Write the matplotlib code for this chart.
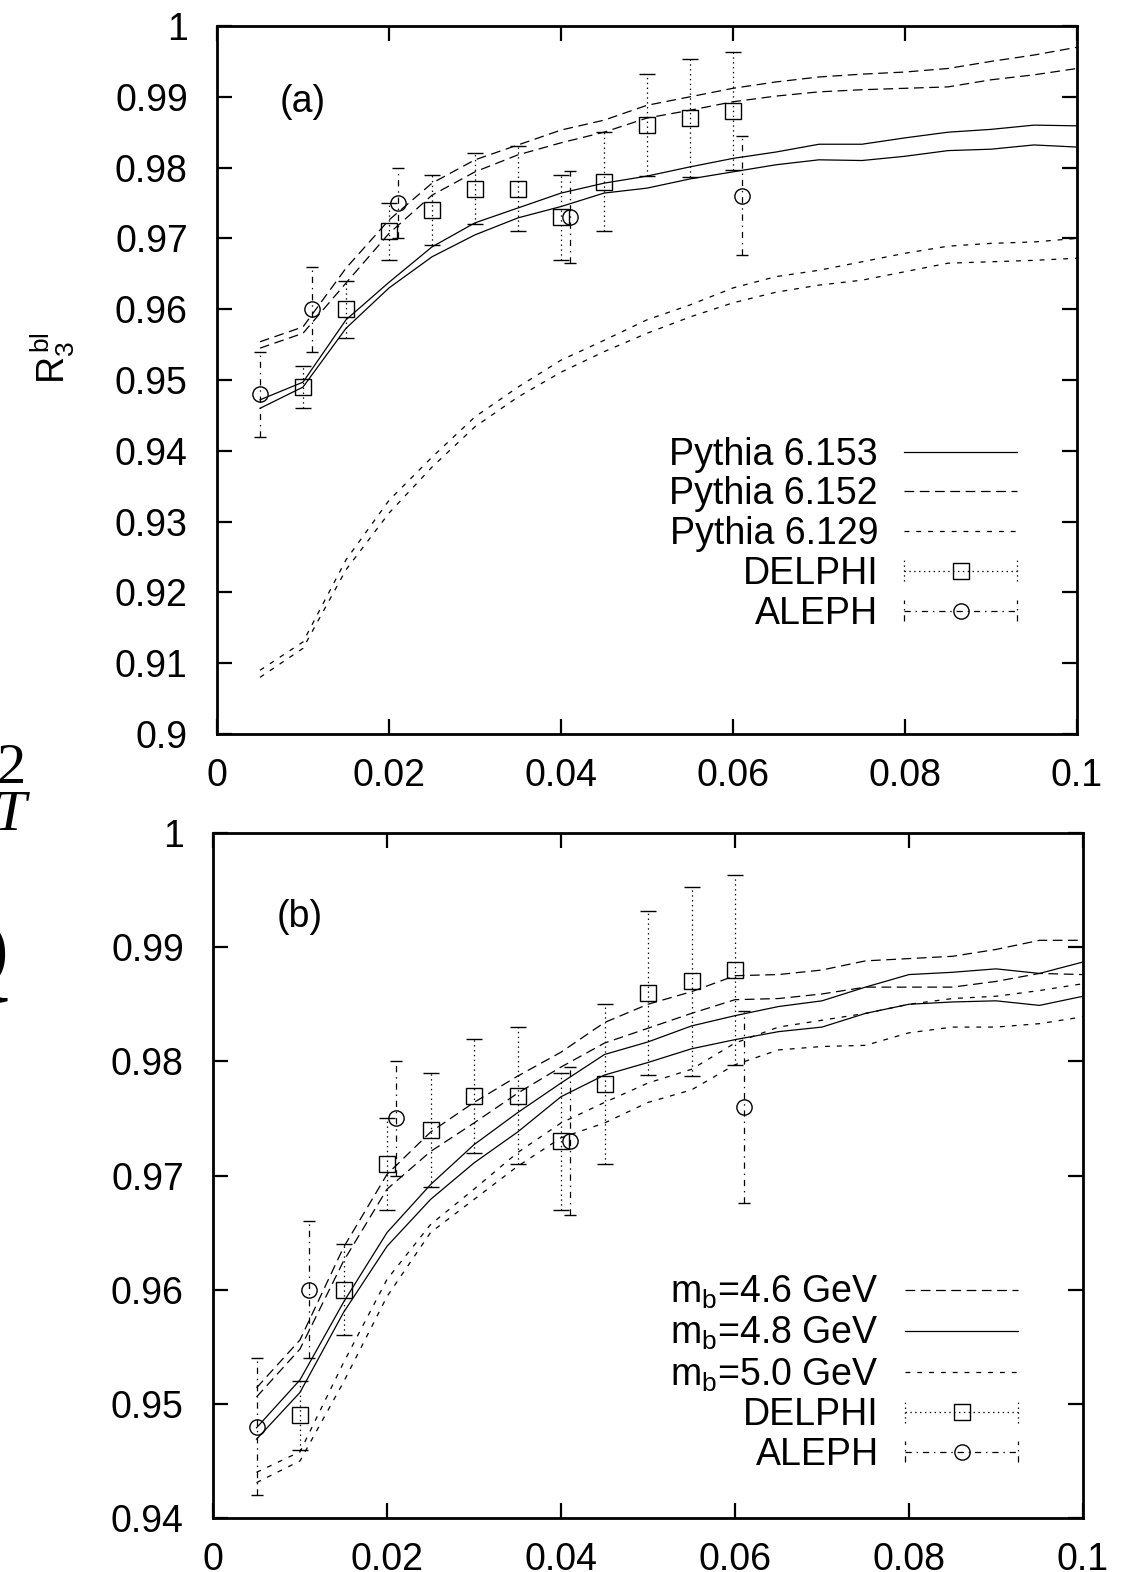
import matplotlib
matplotlib.use('Agg')
import matplotlib.pyplot as plt
from matplotlib.legend_handler import HandlerBase
from matplotlib.lines import Line2D

plt.rcParams['font.family'] = ['Liberation Sans', 'DejaVu Sans']
plt.rcParams['mathtext.fontset'] = 'custom'
plt.rcParams['mathtext.rm'] = 'Liberation Sans'
plt.rcParams['mathtext.it'] = 'Liberation Sans:italic'
plt.rcParams['lines.scale_dashes'] = False

# x grid of the Monte Carlo curves
x_mc = [0.005, 0.010, 0.015, 0.020, 0.025, 0.030, 0.035, 0.040, 0.045, 0.050,
        0.055, 0.060, 0.065, 0.070, 0.075, 0.080, 0.085, 0.090, 0.095, 0.100]

# panel (a): Pythia versions, each drawn as a band (upper/lower edge)
p153_hi = [0.9472, 0.9497, 0.9585, 0.9638, 0.9688, 0.9722, 0.9743, 0.9764, 0.9778, 0.9788,
           0.9801, 0.9813, 0.9822, 0.9833, 0.9833, 0.9842, 0.9850, 0.9854, 0.9860, 0.9859]
p153_lo = [0.9460, 0.9490, 0.9573, 0.9630, 0.9674, 0.9705, 0.9729, 0.9745, 0.9764, 0.9771,
           0.9784, 0.9794, 0.9804, 0.9811, 0.9810, 0.9816, 0.9824, 0.9826, 0.9832, 0.9829]
p152_hi = [0.9554, 0.9575, 0.9658, 0.9726, 0.9778, 0.9811, 0.9832, 0.9853, 0.9867, 0.9888,
           0.9900, 0.9912, 0.9921, 0.9928, 0.9932, 0.9935, 0.9940, 0.9950, 0.9959, 0.9970]
p152_lo = [0.9545, 0.9566, 0.9637, 0.9707, 0.9761, 0.9794, 0.9818, 0.9835, 0.9850, 0.9870,
           0.9881, 0.9893, 0.9901, 0.9907, 0.9910, 0.9912, 0.9914, 0.9924, 0.9931, 0.9940]
p129_hi = [0.9090, 0.9130, 0.9246, 0.9330, 0.9391, 0.9448, 0.9490, 0.9528, 0.9556, 0.9585,
           0.9606, 0.9630, 0.9646, 0.9655, 0.9667, 0.9679, 0.9689, 0.9693, 0.9695, 0.9700]
p129_lo = [0.9080, 0.9121, 0.9232, 0.9312, 0.9377, 0.9434, 0.9476, 0.9511, 0.9540, 0.9566,
           0.9589, 0.9609, 0.9624, 0.9634, 0.9641, 0.9653, 0.9665, 0.9667, 0.9669, 0.9672]

# panel (b): b-quark mass variations
mb46_hi = [0.9514, 0.9556, 0.9637, 0.9701, 0.9738, 0.9764, 0.9787, 0.9808, 0.9834, 0.9850,
           0.9861, 0.9875, 0.9876, 0.9880, 0.9888, 0.9890, 0.9892, 0.9898, 0.9906, 0.9906]
mb46_lo = [0.9506, 0.9548, 0.9625, 0.9688, 0.9721, 0.9746, 0.9772, 0.9795, 0.9816, 0.9829,
           0.9842, 0.9854, 0.9855, 0.9859, 0.9865, 0.9865, 0.9865, 0.9870, 0.9877, 0.9876]
mb48_hi = [0.9479, 0.9521, 0.9589, 0.9650, 0.9692, 0.9727, 0.9755, 0.9781, 0.9806, 0.9817,
           0.9831, 0.9840, 0.9848, 0.9853, 0.9865, 0.9876, 0.9878, 0.9881, 0.9877, 0.9887]
mb48_lo = [0.9469, 0.9510, 0.9580, 0.9638, 0.9679, 0.9711, 0.9738, 0.9769, 0.9788, 0.9799,
           0.9811, 0.9819, 0.9826, 0.9830, 0.9842, 0.9850, 0.9852, 0.9853, 0.9849, 0.9857]
mb50_hi = [0.9440, 0.9458, 0.9536, 0.9609, 0.9657, 0.9688, 0.9720, 0.9746, 0.9764, 0.9781,
           0.9793, 0.9816, 0.9830, 0.9836, 0.9842, 0.9850, 0.9855, 0.9857, 0.9862, 0.9868]
mb50_lo = [0.9431, 0.9450, 0.9519, 0.9594, 0.9650, 0.9679, 0.9708, 0.9733, 0.9746, 0.9764,
           0.9775, 0.9797, 0.9810, 0.9813, 0.9814, 0.9825, 0.9830, 0.9830, 0.9833, 0.9839]

# data points
x_del = [0.010, 0.015, 0.020, 0.025, 0.030, 0.035, 0.040, 0.045, 0.050, 0.055, 0.060]
y_del = [0.949, 0.960, 0.971, 0.974, 0.977, 0.977, 0.973, 0.978, 0.986, 0.987, 0.988]
e_del = [0.003, 0.004, 0.004, 0.005, 0.005, 0.006, 0.006, 0.007, 0.0072, 0.0083, 0.0083]
x_ale = [0.005, 0.011, 0.021, 0.041, 0.061]
y_ale = [0.948, 0.960, 0.975, 0.973, 0.976]
e_ale = [0.006, 0.006, 0.005, 0.0065, 0.0084]

# ticks
xticks = [0, 0.02, 0.04, 0.06, 0.08, 0.1]
xtick_labels = ['0', '0.02', '0.04', '0.06', '0.08', '0.1']
yticks_a = [0.90, 0.91, 0.92, 0.93, 0.94, 0.95, 0.96, 0.97, 0.98, 0.99, 1.0]
ytick_labels_a = ['0.9', '0.91', '0.92', '0.93', '0.94', '0.95', '0.96', '0.97', '0.98', '0.99', '1']
yticks_b = [0.94, 0.95, 0.96, 0.97, 0.98, 0.99, 1.0]
ytick_labels_b = ['0.94', '0.95', '0.96', '0.97', '0.98', '0.99', '1']

FS = 27
LW = 0.9
LONG = (0, (7, 4))
SHORT = (0, (3.5, 5))
DOTS = (0, (1, 2.5))
DASHDOT = (0, (4.5, 3.5, 1, 3.5))


class GnuErrHandler(HandlerBase):
    """gnuplot-like key entry: horizontal bar with end ticks and a marker"""
    def __init__(self, ls, marker):
        super().__init__()
        self.ls = ls
        self.marker = marker

    def create_artists(self, legend, orig_handle, xdescent, ydescent,
                       width, height, fontsize, trans):
        y = height / 2 - ydescent
        x0, x1 = -xdescent, width - xdescent
        c = height * 0.4
        arts = [Line2D([x0, x1], [y, y], ls=self.ls, lw=LW, color='k'),
                Line2D([x0, x0], [y - c, y + c], ls=self.ls, lw=LW, color='k'),
                Line2D([x1, x1], [y - c, y + c], ls=self.ls, lw=LW, color='k'),
                Line2D([(x0 + x1) / 2], [y], ls='none', marker=self.marker, ms=11,
                       mfc='none', mec='k', mew=1.0)]
        for a in arts:
            a.set_transform(trans)
        return arts


def draw_points(ax):
    ax.errorbar(x_del, y_del, yerr=e_del, fmt='s', ms=11, mfc='none', mec='k', mew=1.0,
                ecolor='k', elinewidth=LW, capsize=6, capthick=0.8, zorder=3)[2][0].set_linestyle(DOTS)
    ax.errorbar(x_ale, y_ale, yerr=e_ale, fmt='o', ms=11, mfc='none', mec='k', mew=1.0,
                ecolor='k', elinewidth=LW, capsize=4, capthick=1.0, zorder=3)[2][0].set_linestyle(DASHDOT)


def style_axis(ax, yticks, ylabels):
    ax.set_xlim(0, 0.1)
    ax.set_xticks(xticks)
    ax.set_xticklabels(xtick_labels)
    ax.set_yticks(yticks)
    ax.set_yticklabels(ylabels)
    ax.set_ylim(yticks[0], yticks[-1])
    ax.tick_params(direction='in', length=11, width=1.6, top=True, right=True,
                   labelsize=FS)
    ax.tick_params(axis='x', pad=17)
    ax.tick_params(axis='y', pad=21)
    for s in ax.spines.values():
        s.set_linewidth(2.0)


def add_key(ax, handles, labels, anchor):
    hmap = {handles[3]: GnuErrHandler(DOTS, 's'), handles[4]: GnuErrHandler(DASHDOT, 'o')}
    ax.legend(handles, labels, handler_map=hmap, loc='upper right', bbox_to_anchor=anchor,
              frameon=False, fontsize=FS, markerfirst=False, handlelength=3.0,
              handletextpad=0.7, labelspacing=0.1, borderpad=0, borderaxespad=0)


fig = plt.figure(figsize=(11.26, 15.72), dpi=100)
ax1 = fig.add_axes([217 / 1126, 1 - 734 / 1572, 860 / 1126, 708 / 1572])
ax2 = fig.add_axes([213 / 1126, 1 - 1518 / 1572, 870 / 1126, 685 / 1572])

# panel (a)
l1, = ax1.plot(x_mc, p153_hi, color='k', lw=LW)
ax1.plot(x_mc, p153_lo, color='k', lw=LW)
l2, = ax1.plot(x_mc, p152_hi, color='k', lw=LW, ls=LONG)
ax1.plot(x_mc, p152_lo, color='k', lw=LW, ls=LONG)
l3, = ax1.plot(x_mc, p129_hi, color='k', lw=LW, ls=SHORT)
ax1.plot(x_mc, p129_lo, color='k', lw=LW, ls=SHORT)
draw_points(ax1)
style_axis(ax1, yticks_a, ytick_labels_a)
ax1.text(0.1, 0.893, '(a)', transform=ax1.transAxes, fontsize=FS, ha='center', va='center')
add_key(ax1, [l1, l2, l3, Line2D([], []), Line2D([], [])],
        ['Pythia 6.153', 'Pythia 6.152', 'Pythia 6.129', 'DELPHI', 'ALEPH'], (0.93, 0.42))

# panel (b)
m1, = ax2.plot(x_mc, mb46_hi, color='k', lw=LW, ls=LONG)
ax2.plot(x_mc, mb46_lo, color='k', lw=LW, ls=LONG)
m2, = ax2.plot(x_mc, mb48_hi, color='k', lw=LW)
ax2.plot(x_mc, mb48_lo, color='k', lw=LW)
m3, = ax2.plot(x_mc, mb50_hi, color='k', lw=LW, ls=SHORT)
ax2.plot(x_mc, mb50_lo, color='k', lw=LW, ls=SHORT)
draw_points(ax2)
style_axis(ax2, yticks_b, ytick_labels_b)
ax2.text(0.10, 0.878, '(b)', transform=ax2.transAxes, fontsize=FS, ha='center', va='center')
add_key(ax2, [m1, m2, m3, Line2D([], []), Line2D([], [])],
        [r'm$_\mathrm{b}$=4.6 GeV', r'm$_\mathrm{b}$=4.8 GeV', r'm$_\mathrm{b}$=5.0 GeV',
         'DELPHI', 'ALEPH'], (0.925, 0.356))

# y label of the upper panel
fig.text(53 / 1126, 1 - 358 / 1572, r'R$_3^{\,\mathrm{bl}}$', rotation=90, fontsize=FS,
         ha='center', va='center')

# leftovers of the neighbouring page at the left edge
fig.text(26 / 1126, 1 - 769 / 1572, '2', family='Liberation Serif', fontsize=42,
         ha='right', va='center')
fig.text(26 / 1126, 1 - 816 / 1572, 'T', family='Liberation Serif', style='italic',
         fontsize=42, ha='right', va='center')
fig.text(9 / 1126, 1 - 962 / 1572, 'Q', family='Liberation Serif', fontsize=72,
         ha='right', va='center')

fig.savefig('out.png', dpi=100)
